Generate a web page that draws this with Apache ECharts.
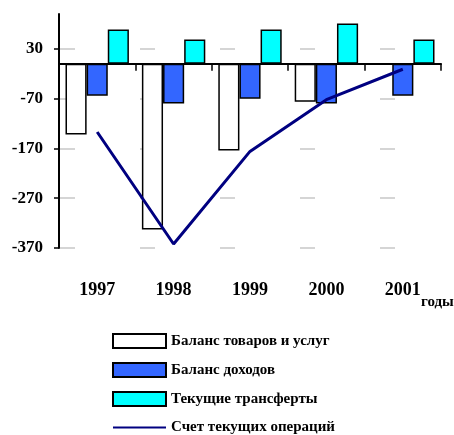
<!DOCTYPE html>
<html><head><meta charset="utf-8">
<script src="https://cdn.jsdelivr.net/npm/echarts@6/dist/echarts.min.js"></script>
<style>html,body{margin:0;padding:0;background:#fff}#c{width:454px;height:435px}</style>
</head><body><div id="c"></div>
<script>
const years = ['1997','1998','1999','2000','2001'];
const goodsServices = [-142, -333, -174, -76, null];
const income = [-64, -80, -70, -80, -64];
const transfers = [69, 49, 69, 81, 49];
const currentAccount = [-137, -362, -176, -72, -11];
const yTicks = [-370, -270, -170, -70, 30];
const names = ['Баланс товаров и услуг','Баланс доходов','Текущие трансферты','Счет текущих операций'];
const FONT = '"Liberation Serif", serif';

const chart = echarts.init(document.getElementById('c'));
const barStyle = c => ({color: c, borderColor: '#000', borderWidth: 1.5});
chart.setOption({
  animation: false,
  grid: {left: 59, right: 13, top: 14, bottom: 187},
  legend: {
    orient: 'vertical', left: 112, top: 333, height: 110, padding: 0,
    itemWidth: 53, itemHeight: 14, itemGap: 13,
    textStyle: {fontFamily: FONT, fontWeight: 'bold', fontSize: 15, color: '#000'},
    data: [
      {name: names[0], icon: 'rect'},
      {name: names[1], icon: 'rect'},
      {name: names[2], icon: 'rect'},
      {name: names[3], itemStyle: {opacity: 0}}
    ]
  },
  xAxis: [{
    type: 'category', data: years,
    axisLine: {onZero: true, lineStyle: {color: '#000', width: 2}},
    axisTick: {show: true, length: 7, lineStyle: {color: '#000', width: 1.5}},
    axisLabel: {show: false}
  }, {
    type: 'category', data: years, position: 'bottom',
    axisLine: {show: false}, axisTick: {show: false},
    axisLabel: {margin: 33, fontFamily: FONT, fontWeight: 'bold', fontSize: 18, color: '#000'}
  }],
  yAxis: {
    type: 'value', min: -370, max: 100, interval: 100,
    axisLine: {show: true, lineStyle: {color: '#000', width: 2}},
    axisTick: {show: true, length: 5, customValues: yTicks, lineStyle: {color: '#000', width: 1.5}},
    axisLabel: {customValues: yTicks, margin: 16, fontFamily: FONT, fontWeight: 'bold', fontSize: 17, color: '#000'},
    splitLine: {show: true, lineStyle: {color: '#c8c8c8', width: 1.5, type: [15, 65], dashOffset: 79}}
  },
  series: [
    {name: names[0], type: 'bar', data: goodsServices, itemStyle: barStyle('#ffffff'), barGap: '0%', barCategoryGap: '17%'},
    {name: names[1], type: 'bar', data: income, itemStyle: barStyle('#3366ff')},
    {name: names[2], type: 'bar', data: transfers, itemStyle: barStyle('#00ffff')},
    {name: names[3], type: 'line', data: currentAccount, symbol: 'none', lineStyle: {color: '#000080', width: 3}, itemStyle: {color: '#000080'}, z: 5}
  ],
  graphic: [{type: 'text', left: 421, top: 295, style: {text: 'годы', fontFamily: FONT, fontWeight: 'bold', fontSize: 15, fill: '#000'}}]
});
</script></body></html>
